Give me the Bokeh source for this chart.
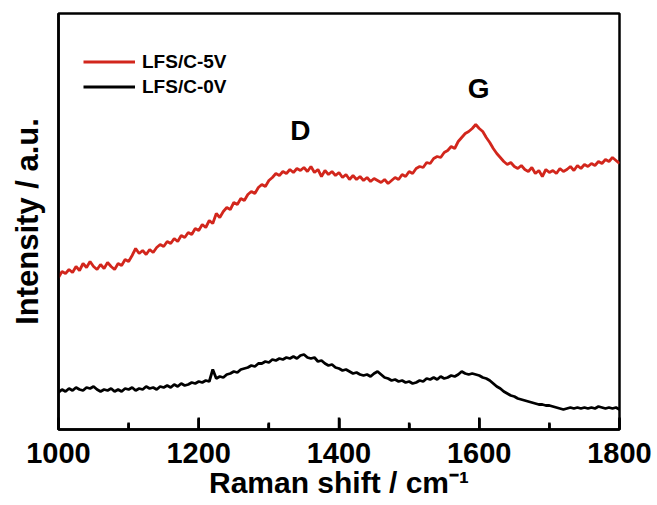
from bokeh.plotting import figure
from bokeh.models import Range1d, FixedTicker, Legend, LegendItem
from bokeh.core.properties import value
from bokeh.embed import file_html
from bokeh.resources import INLINE

# Raman shift (cm^-1), sampled every 5 cm^-1
shift = list(range(1000, 1801, 5))

# Intensity (a.u.)
lfs_5v = [
    152, 158, 156, 160, 157, 163, 159, 166, 162, 168,
    163, 160, 165, 161, 167, 163, 160, 166, 164, 170,
    168, 174, 181, 176, 179, 175, 180, 177, 182, 185,
    183, 188, 186, 191, 188, 194, 192, 197, 195, 201,
    199, 205, 202, 209, 206, 216, 212, 218, 222, 220,
    227, 225, 231, 229, 235, 238, 236, 242, 245, 243,
    249, 252, 256, 254, 258, 256, 260, 257, 261, 259,
    262, 258, 263, 257, 260, 253, 259, 255, 258, 254,
    257, 252, 255, 250, 254, 250, 253, 249, 252, 248,
    251, 249, 247, 250, 246, 249, 252, 250, 255, 253,
    258, 256, 261, 263, 262, 267, 266, 271, 273, 272,
    277, 279, 283, 281, 288, 292, 296, 298, 301, 305,
    301, 298, 292, 287, 281, 276, 272, 268, 265, 267,
    263, 261, 264, 260, 258, 262, 256, 259, 253, 260,
    257, 259, 256, 261, 258, 260, 263, 259, 264, 261,
    265, 263, 266, 264, 268, 266, 270, 268, 272, 269,
    266,
]

lfs_0v = [
    37, 40, 38, 41, 39, 42, 40, 39, 42, 41,
    43, 40, 38, 40, 39, 41, 38, 40, 38, 41,
    40, 42, 39, 41, 40, 43, 41, 42, 40, 43,
    42, 44, 42, 45, 43, 46, 44, 45, 47, 46,
    48, 47, 49, 48, 60, 51, 53, 52, 55, 56,
    58, 57, 60, 61, 62, 64, 63, 66, 66, 68,
    67, 70, 69, 71, 70, 72, 71, 73, 71, 74,
    75, 72, 71, 72, 68, 69, 66, 64, 65, 62,
    61, 59, 60, 58, 56, 57, 55, 54, 55, 53,
    56, 58, 55, 52, 51, 49, 50, 48, 49, 47,
    48, 46, 47, 49, 48, 51, 50, 52, 50, 53,
    51, 52, 54, 53, 55, 58, 56, 55, 56, 55,
    54, 52, 51, 49, 46, 43, 41, 38, 36, 34,
    33, 31, 30, 29, 28, 27, 26, 25, 25, 24,
    24, 23, 22, 21, 20, 21, 22, 21, 22, 21,
    22, 21, 22, 21, 23, 22, 21, 22, 21, 22,
    20,
]

series_names = ["LFS/C-5V", "LFS/C-0V"]
series_colors = ["#d2261c", "#000000"]

peak_labels = ["D", "G"]
peak_x = [1345, 1599]
peak_y = [299, 341]

major_ticks = [1000, 1200, 1400, 1600, 1800]
minor_ticks = [1100, 1300, 1500, 1700]

FONT = "Liberation Sans"
Y_MIN, Y_MAX = 0, 416
MAJOR_LEN, MINOR_LEN = 12, 7  # inward tick length (y data units == px here)

p = figure(width=657, height=505, output_backend="svg", toolbar_location=None,
           x_range=Range1d(1000, 1800), y_range=Range1d(Y_MIN, Y_MAX),
           min_border_left=58, min_border_right=38, min_border_top=13,
           min_border_bottom=76)
p.grid.visible = False
p.outline_line_color = "black"
p.outline_line_width = 2.5
p.border_fill_color = None
p.border_fill_alpha = 0

r1 = p.line(shift, lfs_5v, line_color=series_colors[0], line_width=2.8)
r0 = p.line(shift, lfs_0v, line_color=series_colors[1], line_width=2.8)

# inward ticks on the bottom frame edge
p.segment(x0=major_ticks, y0=[Y_MIN] * len(major_ticks),
          x1=major_ticks, y1=[Y_MIN + MAJOR_LEN] * len(major_ticks),
          line_color="black", line_width=2.5, level="overlay")
p.segment(x0=minor_ticks, y0=[Y_MIN] * len(minor_ticks),
          x1=minor_ticks, y1=[Y_MIN + MINOR_LEN] * len(minor_ticks),
          line_color="black", line_width=2.5, level="overlay")

p.text(x=peak_x, y=peak_y, text=peak_labels, text_align="center",
       text_baseline="middle", text_font=value(FONT), text_font_style="bold",
       text_font_size="28px", text_color="black")

xa = p.xaxis[0]
xa.ticker = FixedTicker(ticks=major_ticks, minor_ticks=minor_ticks)
xa.axis_label = "Raman shift / cm\u207b\u00b9"
xa.axis_label_text_font = FONT
xa.axis_label_text_font_style = "bold"
xa.axis_label_text_font_size = "30px"
xa.axis_label_standoff = 0
xa.axis_label_text_color = "black"
xa.major_label_text_font = FONT
xa.major_label_text_font_style = "bold"
xa.major_label_text_font_size = "29px"
xa.major_label_standoff = 13
xa.major_label_text_color = "black"
xa.major_tick_in = 11
xa.major_tick_out = 0
xa.minor_tick_in = 6
xa.minor_tick_out = 0
xa.major_tick_line_color = "black"
xa.minor_tick_line_color = "black"
xa.major_tick_line_width = 2.5
xa.minor_tick_line_width = 2.5
xa.axis_line_width = 2.5
xa.axis_line_color = "black"

ya = p.yaxis[0]
ya.ticker = FixedTicker(ticks=[], minor_ticks=[])
ya.axis_label = "Intensity / a.u."
ya.axis_label_text_font = FONT
ya.axis_label_text_font_style = "bold"
ya.axis_label_text_font_size = "31px"
ya.axis_label_text_color = "black"
ya.axis_label_standoff = 14
ya.major_label_standoff = 0
ya.major_tick_line_color = None
ya.minor_tick_line_color = None
ya.axis_line_width = 2.5
ya.axis_line_color = "black"

for ax in (xa, ya):
    if "background_fill_alpha" in type(ax).properties():
        ax.background_fill_alpha = 0

legend = Legend(items=[LegendItem(label=series_names[0], renderers=[r1]),
                       LegendItem(label=series_names[1], renderers=[r0])],
                location=(25, 330), border_line_color=None,
                background_fill_alpha=0, padding=0, margin=0, spacing=0,
                glyph_width=52, glyph_height=25, label_height=25,
                label_standoff=7, label_text_font=FONT,
                label_text_font_style="bold", label_text_font_size="19px",
                label_text_color="black")
p.add_layout(legend)

open("out.html", "w").write(file_html(p, INLINE))
